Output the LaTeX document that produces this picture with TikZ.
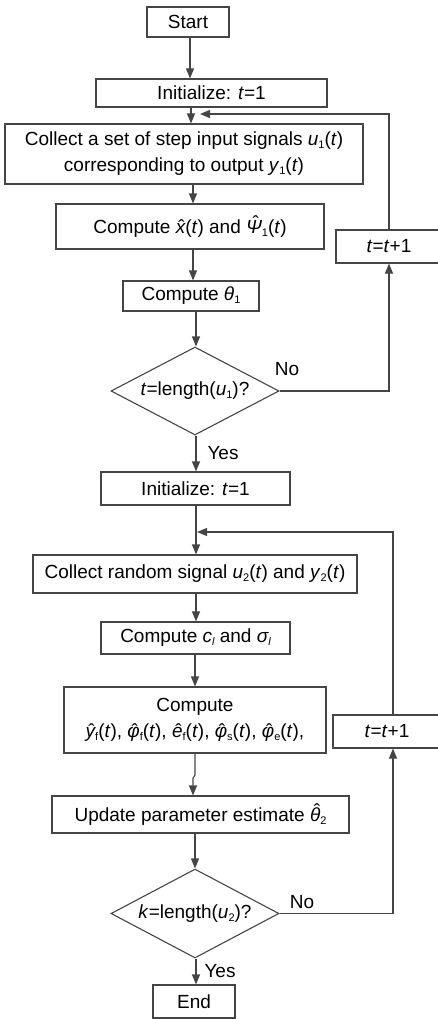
\documentclass[tikz,border=0pt]{standalone}
\usepackage{fontspec}
\setmainfont{Liberation Sans}
\usetikzlibrary{arrows.meta,shapes.geometric}
\definecolor{lc}{HTML}{454545}
\newcommand{\hatit}[3]{\leavevmode\setbox0=\hbox{\itshape #1}\rlap{\hbox to\wd0{\hss\kern#3\raisebox{#2}{\upshape\char"02C6}\hss}}\box0}
\newcommand{\sbs}[1]{\raisebox{-3pt}{\fontsize{11}{11}\selectfont #1}}
\begin{document}
\begin{tikzpicture}[x=1pt,y=-1pt,font=\fontsize{19}{26}\selectfont,
  box/.style={draw=lc,line width=1.1pt,rectangle,inner sep=0pt,align=center,fill=white},
  dia/.style={draw=lc,line width=1.1pt,diamond,inner sep=0pt,aspect=1.9},
  arr/.style={draw=lc,line width=1.1pt,-{Triangle[length=10pt,width=8pt]}},
  lbl/.style={inner sep=0pt}]
\useasboundingbox (0,0) rectangle (438,1019);
% column coordinates
\coordinate (xa) at (190,0);
\coordinate (xb) at (191,0);
\coordinate (xc) at (193,0);
\coordinate (xd) at (196,0);
\coordinate (xe) at (195,0);
\coordinate (r2) at (393,0);
\coordinate (j1) at (200,114);
\coordinate (j2) at (197,532);
% nodes
\node[box,minimum width=82,minimum height=30] (start) at (188,22) {Start};
\node[box,minimum width=231,minimum height=28] (init1) at (211.5,93) {Initialize: \textit{t}=1};
\node[box,minimum width=358,minimum height=60] (col1) at (184,154) {Collect a set of step input signals \textit{u}\sbs{1}(\textit{t})\\corresponding to output \textit{y}\sbs{1}(\textit{t})};
\node[box,minimum width=268,minimum height=45] (comp1) at (190,226.5) {Compute \hatit{x}{0pt}{0.12em}(\textit{t}) and \hatit{Ψ}{0.2em}{0.2em}\sbs{1}(\textit{t})};
\node[box,minimum width=106,minimum height=33] (tt1) at (389,246.5) {\textit{t}=\textit{t}+1};
\node[box,minimum width=136,minimum height=30] (th1) at (191,296) {Compute \textit{θ}\sbs{1}};
\node[dia,minimum width=168,minimum height=88] (d1) at (195,391) {\textit{t}=length(\textit{u}\sbs{1})?};
\node[box,minimum width=189,minimum height=33] (init2) at (195.5,488.5) {Initialize: \textit{t}=1};
\node[box,minimum width=324,minimum height=38] (col2) at (195,574) {Collect random signal \textit{u}\sbs{2}(\textit{t}) and \textit{y}\sbs{2}(\textit{t})};
\node[box,minimum width=189,minimum height=32] (cl) at (195.5,638) {Compute \textit{c\sbs{l}} and \textit{σ\sbs{l}}};
\node[box,minimum width=262,minimum height=66] (big) at (195,720) {Compute\\\hatit{y}{0pt}{0.12em}\sbs{f}(\textit{t}), \hatit{φ}{0pt}{0.12em}\sbs{f}(\textit{t}), \hatit{e}{0pt}{0.12em}\sbs{f}(\textit{t}), \hatit{φ}{0pt}{0.12em}\sbs{s}(\textit{t}), \hatit{φ}{0pt}{0.12em}\sbs{e}(\textit{t}),};
\node[box,minimum width=108,minimum height=33] (tt2) at (387,731.5) {\textit{t}=\textit{t}+1};
\node[box,minimum width=297,minimum height=37] (upd) at (200.5,814.5) {Update parameter estimate \hatit{θ}{0.2em}{0.2em}\sbs{2}};
\node[dia,minimum width=168,minimum height=89] (d2) at (195,913.5) {\textit{k}=length(\textit{u}\sbs{2})?};
\node[box,minimum width=82,minimum height=33] (end) at (194,1001.5) {End};
% labels
\node[lbl] (no1) at (287,369) {No};
\node[lbl] (yes1) at (223,453) {Yes};
\node[lbl] (no2) at (302,902) {No};
\node[lbl] (yes2) at (220,971) {Yes};
% connectors
\draw[arr] (start.south -| xa) -- (init1.north -| xa);
\draw[arr] (init1.south -| xb) -- (col1.north -| xb);
\draw[arr] (col1.south -| xc) -- (comp1.north -| xc);
\draw[arr] (comp1.south -| xc) -- (th1.north -| xc);
\draw[arr] (th1.south -| xd) -- (d1.north -| xd);
\draw[arr] (d1.south -| xd) -- (init2.north -| xd);
\draw[arr] (d1.east) -| (tt1.south);
\draw[arr] (tt1.north) |- (j1);
\draw[arr] (init2.south -| xd) -- (col2.north -| xd);
\draw[arr] (col2.south -| xd) -- (cl.north -| xd);
\draw[arr] (cl.south -| xe) -- (big.north -| xe);
\draw[arr] (big.south -| xe) -- (195,775) -- (193,778) -- (upd.north -| xc);
\draw[arr] (upd.south -| xe) -- (d2.north -| xe);
\draw[arr] (d2.south -| xd) -- (end.north -| xd);
\draw[arr] (d2.east) -| (tt2.south -| r2);
\draw[arr] (tt2.north -| r2) |- (j2);
\end{tikzpicture}
\end{document}
